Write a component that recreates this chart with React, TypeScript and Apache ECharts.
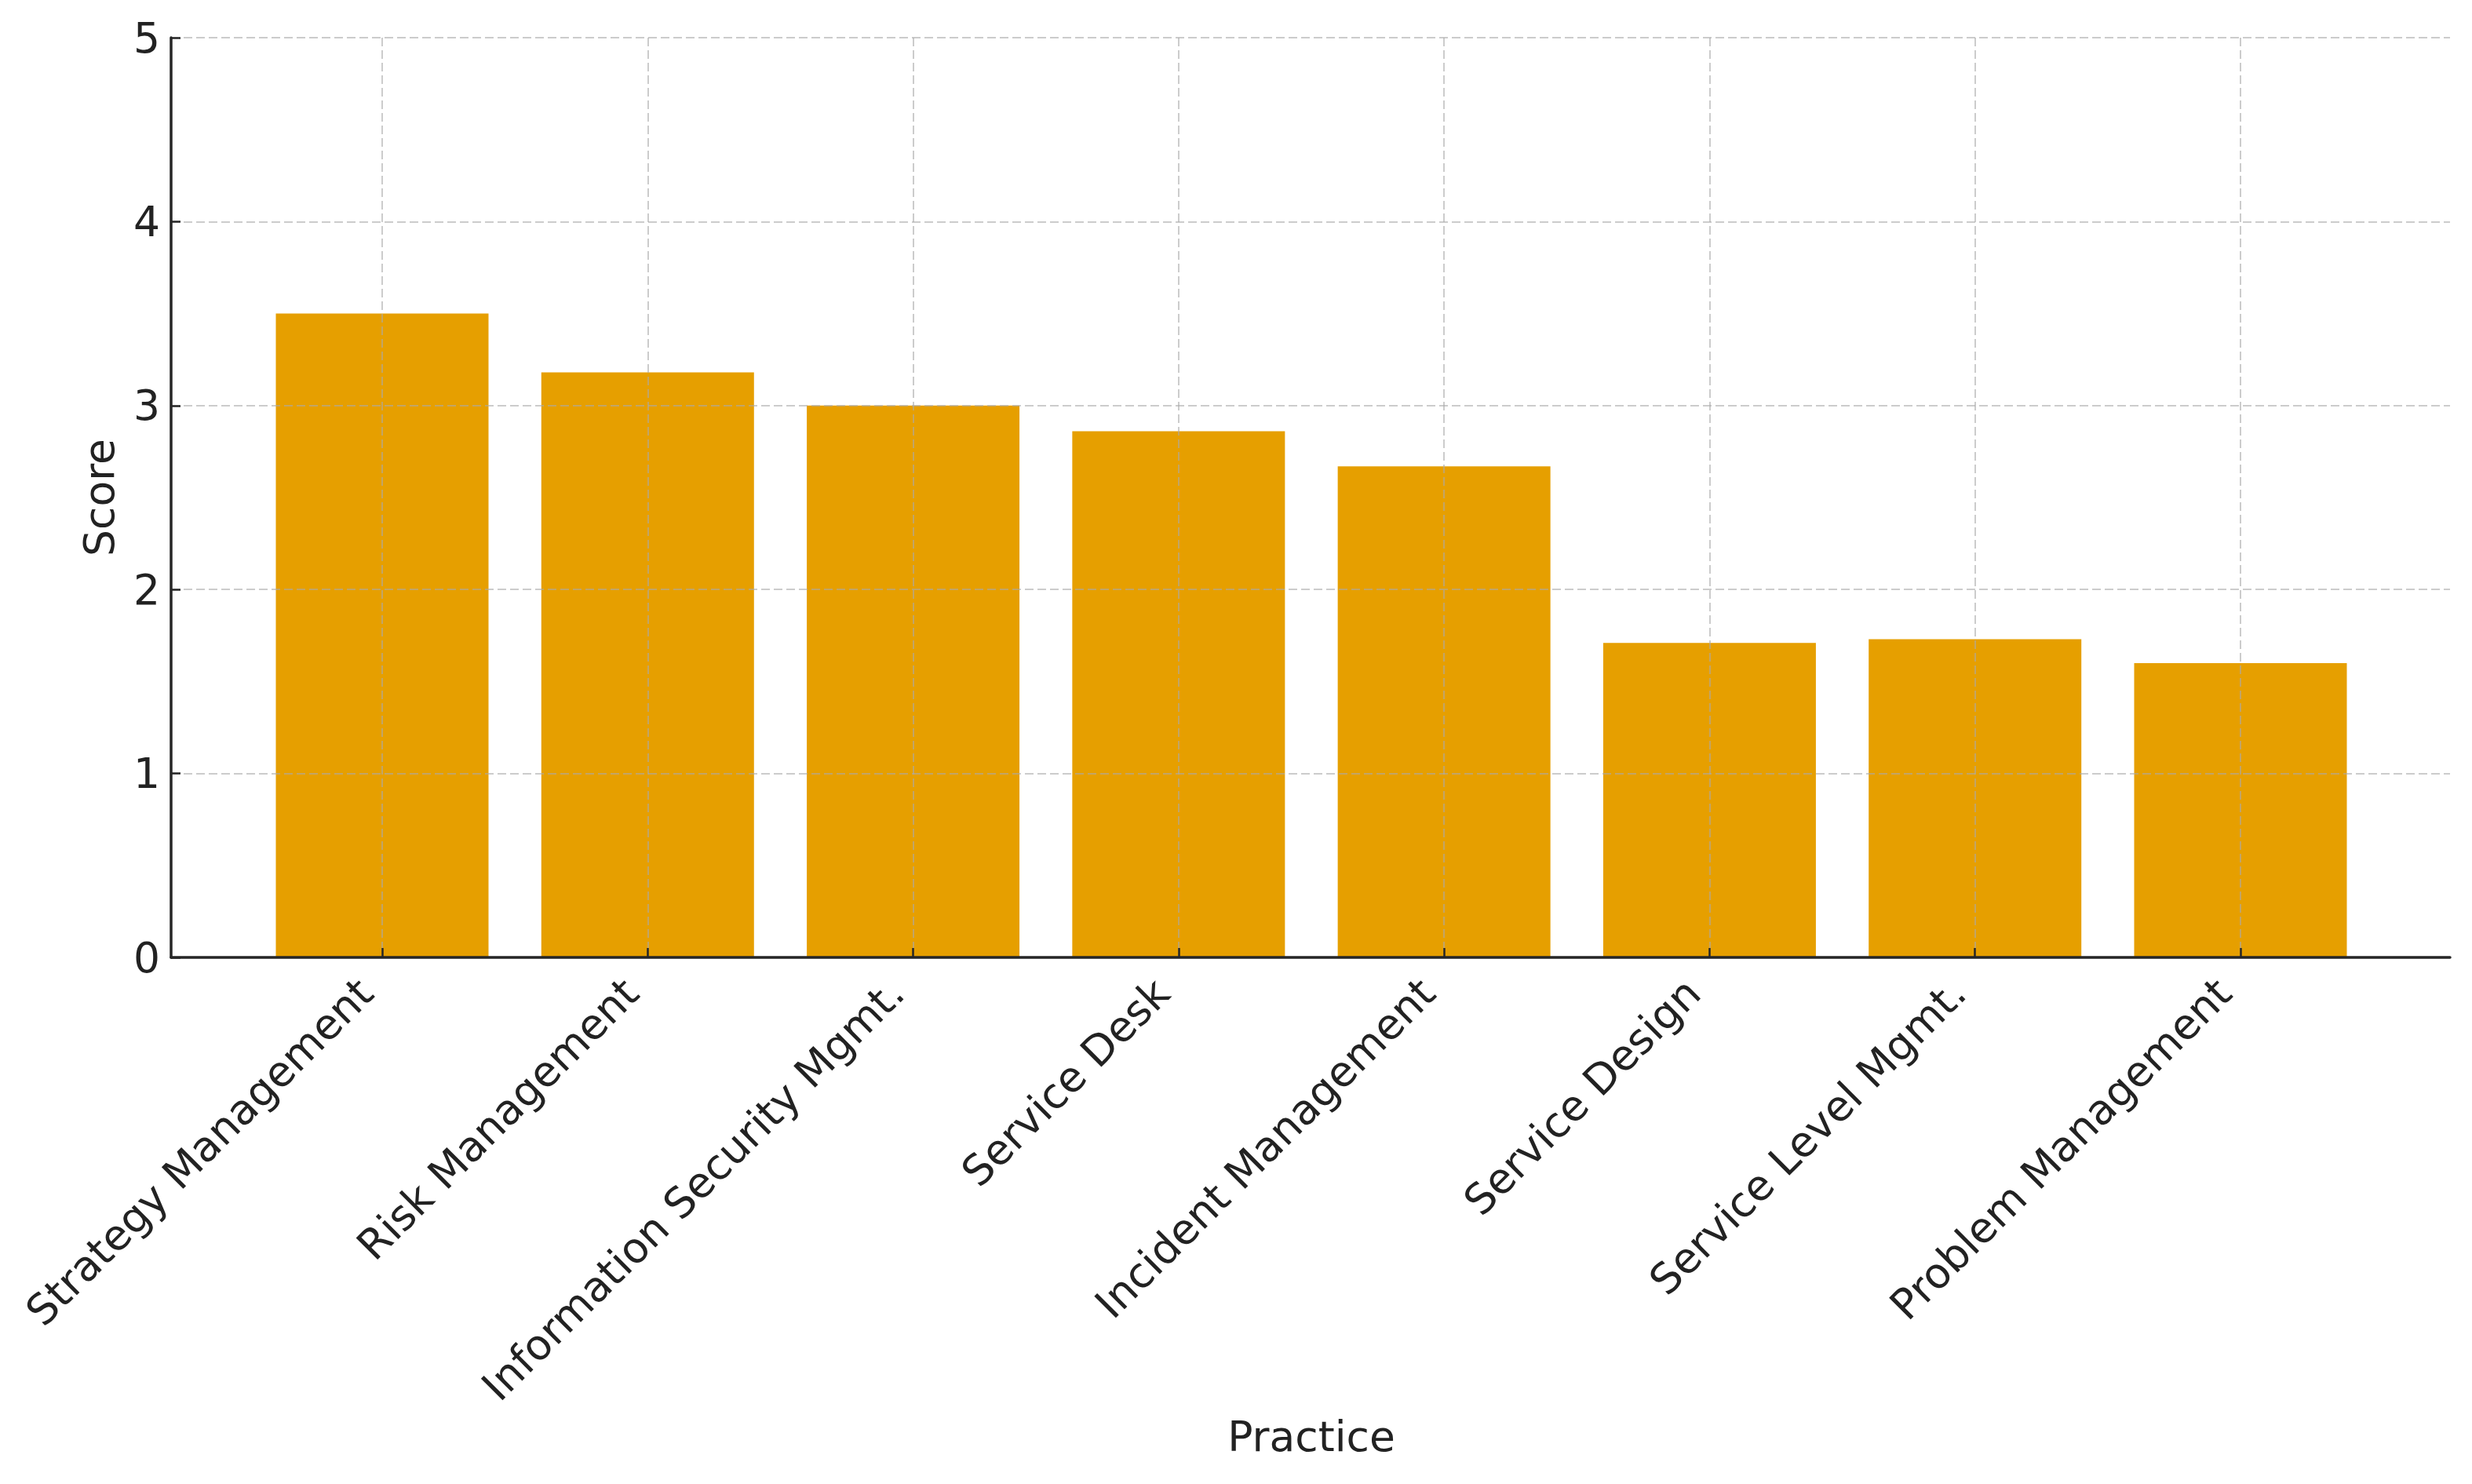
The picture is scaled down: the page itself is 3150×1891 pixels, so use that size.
import React, { useEffect, useRef } from "react";
import * as echarts from "echarts";

const categories: string[] = [
  "Strategy Management",
  "Risk Management",
  "Information Security Mgmt.",
  "Service Desk",
  "Incident Management",
  "Service Design",
  "Service Level Mgmt.",
  "Problem Management",
];
const scores: number[] = [3.5, 3.18, 3.0, 2.86, 2.67, 1.71, 1.73, 1.6];
const yTicks: number[] = [0, 1, 2, 3, 4, 5];

const FONT = "DejaVu Sans";
const FS = 53.5;
const TEXT = "#222222";
const AXIS = "#262626";
const GRIDC = "rgba(170,170,170,0.6)";

export default function App() {
  const ref = useRef<HTMLDivElement>(null);
  useEffect(() => {
    if (!ref.current) return;
    const chart = echarts.init(ref.current, undefined, { renderer: "svg" });
    const option: any = {
      animation: false,
      backgroundColor: "#ffffff",
      textStyle: { fontFamily: FONT },
      grid: [
        { left: 218, right: 28, top: 48, bottom: 671, containLabel: false },
        { left: 487, right: 295, top: 48, bottom: 671, containLabel: false },
      ],
      xAxis: [
        {
          type: "value",
          gridIndex: 0,
          min: 0,
          max: 1,
          z: 10,
          axisLine: { show: true, onZero: false, lineStyle: { color: AXIS, width: 3.5 } },
          axisTick: { show: false },
          axisLabel: { show: false },
          splitLine: { show: false },
        },
        {
          type: "category",
          gridIndex: 1,
          data: categories,
          boundaryGap: false,
          z: 10,
          axisLine: { show: false },
          axisTick: {
            show: true,
            inside: true,
            length: 12,
            interval: 0,
            lineStyle: { color: AXIS, width: 2.5 },
          },
          axisLabel: {
            interval: 0,
            rotate: 45,
            margin: 15,
            padding: [0, 30, 0, 0],
            fontFamily: FONT,
            fontSize: FS,
            color: TEXT,
          },
          splitLine: {
            show: true,
            interval: 0,
            lineStyle: { color: GRIDC, width: 2, type: [11, 5] },
          },
          name: "Practice",
          nameLocation: "middle",
          nameGap: 583,
          nameTextStyle: { fontFamily: FONT, fontSize: FS, color: TEXT },
        },
      ],
      yAxis: [
        {
          type: "value",
          gridIndex: 0,
          min: 0,
          max: 5,
          interval: 1,
          z: 10,
          axisLine: { show: true, lineStyle: { color: AXIS, width: 3.5 } },
          axisTick: {
            show: true,
            inside: true,
            length: 12,
            lineStyle: { color: AXIS, width: 2.5 },
          },
          axisLabel: {
            margin: 14,
            fontFamily: FONT,
            fontSize: FS,
            color: TEXT,
            formatter: (v: number) => (yTicks.includes(v) ? String(v) : ""),
          },
          splitLine: {
            show: true,
            lineStyle: { color: GRIDC, width: 2, type: [11, 5] },
          },
          name: "Score",
          nameLocation: "middle",
          nameGap: 65,
          nameRotate: 90,
          nameTextStyle: { fontFamily: FONT, fontSize: FS, color: TEXT },
        },
        {
          type: "value",
          gridIndex: 1,
          min: 0,
          max: 5,
          interval: 1,
          show: false,
          splitLine: { show: false },
        },
      ],
      series: [
        {
          type: "bar",
          xAxisIndex: 1,
          yAxisIndex: 1,
          data: scores,
          barWidth: 271,
          clip: false,
          itemStyle: { color: "#E69F00" },
        },
      ],
    };
    chart.setOption(option);
    return () => chart.dispose();
  }, []);
  return (
    <div
      ref={ref}
      style={{ position: "absolute", left: 0, top: 0, width: 3150, height: 1891, background: "#fff" }}
    />
  );
}
